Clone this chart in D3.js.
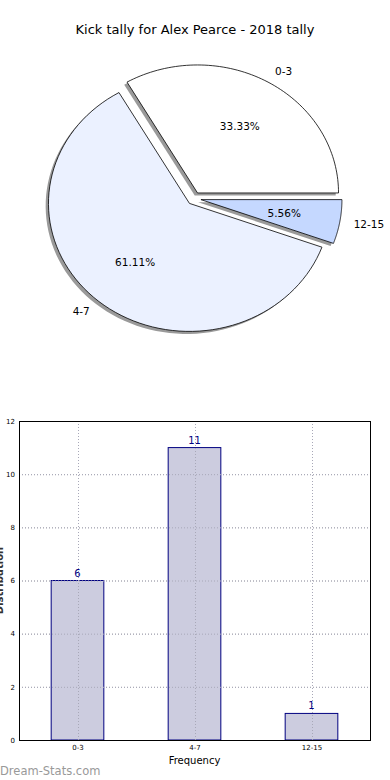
<!DOCTYPE html>
<html><head><meta charset="utf-8">
<script src="https://cdn.jsdelivr.net/npm/d3@7"></script>
<style>body{margin:0;background:#fff;} svg{display:block;font-family:"DejaVu Sans",sans-serif;}</style>
</head><body>
<script>
const title = "Kick tally for Alex Pearce - 2018 tally";
const categories = ["0-3", "4-7", "12-15"];
const counts = [6, 11, 1];
const pieColors = ["#ffffff", "#ebf1ff", "#c5d8ff"];
const yTicks = [0, 2, 4, 6, 8, 10, 12];
const xLabel = "Frequency";
const yLabel = "Distribution";
const watermark = "Dream-Stats.com";

const W = 390, H = 780;
const svg = d3.select("body").append("svg").attr("width", W).attr("height", H);

svg.append("text").attr("x", 195).attr("y", 34).attr("text-anchor", "middle")
  .attr("font-size", 13).attr("fill", "#000").text(title);

// ---- Pie ----
const cx = 194, cy = 198.5, rx = 141, ry = 128, explode = 0.05;
const total = d3.sum(counts);
const pie = d3.pie().sort(null).startAngle(Math.PI / 2).endAngle(Math.PI / 2 - 2 * Math.PI);
const arcs = pie(counts);
function pt(a, r) { return [Math.sin(a) * r * rx, -Math.cos(a) * r * ry]; }
function slicePath(d, ox, oy) {
  const n = 80, pts = [[ox, oy]];
  for (let i = 0; i <= n; i++) {
    const a = d.startAngle + (d.endAngle - d.startAngle) * i / n;
    const p = pt(a, 1); pts.push([p[0] + ox, p[1] + oy]);
  }
  return d3.line()(pts) + "Z";
}
const pg = svg.append("g").attr("transform", `translate(${cx},${cy})`);
const info = arcs.map(d => {
  const m = (d.startAngle + d.endAngle) / 2;
  const o = pt(m, explode);
  return { d, m, ox: o[0], oy: o[1] };
});
pg.selectAll("path.sh").data(info).join("path").attr("class", "sh")
  .attr("d", s => slicePath(s.d, s.ox - 0.02 * rx, s.oy + 0.02 * ry))
  .attr("fill", "#9a9a9a").attr("stroke", "none");
pg.selectAll("path.sl").data(info).join("path").attr("class", "sl")
  .attr("d", s => slicePath(s.d, s.ox, s.oy))
  .attr("fill", (s, i) => pieColors[i]).attr("stroke", "#000").attr("stroke-width", 0.8)
  .attr("stroke-linejoin", "miter");
pg.selectAll("text.lb").data(info).join("text").attr("class", "lb")
  .each(function (s, i) {
    const p = pt(s.m, 1.1);
    const x = s.ox + p[0], y = s.oy + p[1];
    d3.select(this).attr("x", x).attr("y", y).attr("dy", "0.35em")
      .attr("text-anchor", p[0] >= 0 ? "start" : "end")
      .attr("font-size", 10.5).text(categories[i]);
  });
pg.selectAll("text.pc").data(info).join("text").attr("class", "pc")
  .each(function (s, i) {
    const p = pt(s.m, 0.6);
    d3.select(this).attr("x", s.ox + p[0]).attr("y", s.oy + p[1]).attr("dy", "0.35em")
      .attr("text-anchor", "middle").attr("font-size", 10.5)
      .text((counts[i] / total * 100).toFixed(2) + "%");
  });

// ---- Bar chart ----
const L = 19, R = 370, T = 421, B = 740;
const x = d3.scaleLinear().domain([-0.5, categories.length - 0.5]).range([L, R]);
const y = d3.scaleLinear().domain([0, 12]).range([B, T]);
const bw = (x(1) - x(0)) * 0.45;
const bg = svg.append("g");
bg.selectAll("line.hg").data(yTicks).join("line")
  .attr("x1", L).attr("x2", R).attr("y1", d => y(d) + 0.5).attr("y2", d => y(d) + 0.5)
  .attr("stroke", "#b0b0b0").attr("stroke-width", 1).attr("stroke-dasharray", "1,2");
bg.selectAll("line.vg").data(categories).join("line")
  .attr("y1", T).attr("y2", B).attr("x1", (d, i) => Math.round(x(i)) + 0.5).attr("x2", (d, i) => Math.round(x(i)) + 0.5)
  .attr("stroke", "#b0b0b0").attr("stroke-width", 1).attr("stroke-dasharray", "1,2");
bg.selectAll("rect.bar").data(counts).join("rect")
  .attr("x", (d, i) => x(i) - bw / 2).attr("width", bw)
  .attr("y", d => y(d)).attr("height", d => y(0) - y(d))
  .attr("fill", "#ccccdf").attr("stroke", "#000080").attr("stroke-width", 1);
bg.selectAll("line.vg2").data(categories).join("line")
  .attr("y1", T).attr("y2", B).attr("x1", (d, i) => Math.round(x(i)) + 0.5).attr("x2", (d, i) => Math.round(x(i)) + 0.5)
  .attr("stroke", "#a8a8b8").attr("stroke-width", 1).attr("stroke-dasharray", "1,2");
bg.selectAll("line.hg2").data(yTicks).join("line")
  .attr("x1", L).attr("x2", R).attr("y1", d => y(d) + 0.5).attr("y2", d => y(d) + 0.5)
  .attr("stroke", "#a8a8b8").attr("stroke-width", 1).attr("stroke-dasharray", "1,2");
bg.selectAll("text.val").data(counts).join("text")
  .attr("x", (d, i) => x(i)).attr("y", d => y(d) - 4).attr("text-anchor", "middle")
  .attr("font-size", 10).attr("fill", "#000080").text(d => d);
bg.append("rect").attr("x", L + 0.5).attr("y", T + 0.5).attr("width", R - L).attr("height", B - T)
  .attr("fill", "none").attr("stroke", "#000").attr("stroke-width", 1);
const yAxis = d3.axisLeft(y).tickValues(yTicks).tickSize(0).tickPadding(4);
const ya = bg.append("g").attr("transform", `translate(${L},0)`).call(yAxis);
ya.select(".domain").remove();
ya.selectAll("text").attr("font-size", 7).attr("font-family", "DejaVu Sans").attr("fill", "#000");
const xAxis = d3.axisBottom(x).tickValues(d3.range(categories.length)).tickFormat(i => categories[i]).tickSize(0).tickPadding(5);
const xa = bg.append("g").attr("transform", `translate(0,${B})`).call(xAxis);
xa.select(".domain").remove();
xa.selectAll("text").attr("font-size", 7).attr("font-family", "DejaVu Sans").attr("fill", "#000");
svg.append("text").attr("x", x(1)).attr("y", 764).attr("text-anchor", "middle")
  .attr("font-size", 10).text(xLabel);
svg.append("text").attr("transform", `translate(3,${(T + B) / 2}) rotate(-90)`)
  .attr("text-anchor", "middle").attr("font-size", 10).attr("font-weight", "bold").attr("fill", "#333").text(yLabel);
svg.append("text").attr("x", 0).attr("y", 775).attr("font-size", 11.5)
  .attr("fill", "#999999").text(watermark);
</script>
</body></html>
